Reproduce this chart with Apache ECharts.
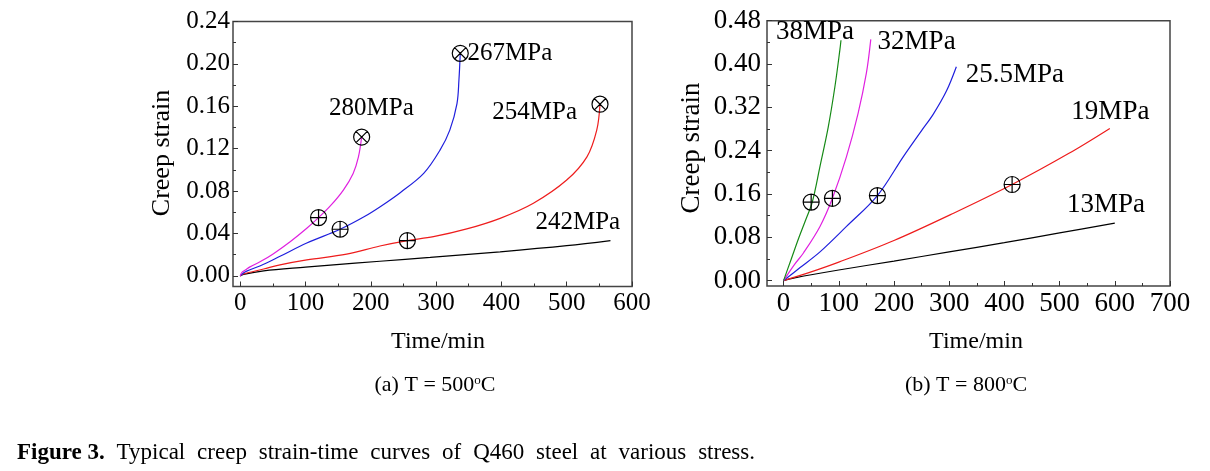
<!DOCTYPE html>
<html>
<head>
<meta charset="utf-8">
<script src="https://cdn.jsdelivr.net/npm/echarts@6/dist/echarts.min.js"></script>
<style>
html,body{margin:0;padding:0;background:#fff;}
#main{width:1210px;height:471px;}
</style>
</head>
<body>
<div id="main"></div>
<script>
// ---------- DATA (a) T = 500 C ----------
var aXTicks = [0, 100, 200, 300, 400, 500, 600];
var aYTicks = [0, 0.04, 0.08, 0.12, 0.16, 0.20, 0.24];
var a280 = [[0,0],[3,0.0035],[8,0.0055],[15,0.0085],[31,0.0135],[51,0.021],[77,0.0325],[102,0.045],[120,0.055],[138,0.066],[158,0.081],[173,0.0967],[181,0.112],[186,0.131]];
var a267 = [[0,0],[5,0.0028],[10,0.0045],[36,0.011],[61,0.0185],[102,0.031],[153,0.044],[189,0.0555],[215,0.0655],[245,0.0785],[281,0.0967],[306,0.1186],[321,0.1375],[332,0.1626],[335,0.185],[337,0.21]];
var a254 = [[0,0],[5,0.0018],[36,0.0065],[61,0.0104],[102,0.0151],[163,0.0205],[214,0.0282],[256,0.0333],[296,0.037],[347,0.0443],[398,0.0543],[449,0.0685],[500,0.0904],[531,0.1123],[546,0.1375],[551,0.162]];
var a242 = [[0,0],[5,0.0015],[36,0.0048],[100,0.0083],[138,0.0102],[214,0.0138],[291,0.0174],[398,0.0227],[500,0.0285],[567,0.0333]];
var aStrainMarks = [[120,0.055],[153,0.044],[256,0.0333]];
var aRuptureMarks = [[186,0.131],[337,0.21],[551,0.162]];
var aLabels = [["280MPa",201,0.158],["267MPa",413,0.2097],["254MPa",451,0.1538],["242MPa",517,0.0502]];

// ---------- DATA (b) T = 800 C ----------
var bXTicks = [0, 100, 200, 300, 400, 500, 600, 700];
var bYTicks = [0, 0.08, 0.16, 0.24, 0.32, 0.40, 0.48];
var b38 = [[0,0],[14,0.04],[28,0.08],[40,0.112],[52,0.145],[66,0.211],[81,0.284],[93,0.358],[102,0.426],[104,0.444]];
var b32 = [[0,0],[20,0.03],[36,0.051],[66,0.100],[88.5,0.152],[114,0.229],[135,0.309],[150,0.383],[158,0.4455]];
var b255 = [[0,0],[30,0.024],[66,0.053],[114,0.100],[170,0.157],[217,0.229],[250,0.277],[271,0.307],[295,0.350],[313,0.395]];
var b19 = [[0,0],[50,0.016],[100,0.034],[200,0.074],[307,0.124],[414,0.1775],[517,0.235],[591,0.281]];
var b13 = [[0,0],[20,0.005],[100,0.0195],[200,0.036],[300,0.053],[400,0.070],[500,0.088],[600,0.106]];
var bStrainMarks = [[50,0.145],[88.5,0.152],[170,0.157],[414,0.1775]];
var bLabels = [["38MPa",57,0.4595],["32MPa",241,0.441],["25.5MPa",419,0.38],["19MPa",592,0.312],["13MPa",584,0.139]];

// ---------- TEXT ----------
var captionBold = 'Figure 3.';
var captionWords = ['Typical','creep','strain-time','curves','of','Q460','steel','at','various','stress.'];

// ---------- STYLE ----------
var FONT = '"Liberation Serif", "Times New Roman", serif';
var PLUS = 'path://M0,10 A10,10 0 1,1 20,10 A10,10 0 1,1 0,10 Z M0,10 L20,10 M10,0 L10,20';
var CROSS = 'path://M0,10 A10,10 0 1,1 20,10 A10,10 0 1,1 0,10 Z M2.93,2.93 L17.07,17.07 M17.07,2.93 L2.93,17.07';

function mid(arr){ var r=[]; for(var i=0;i<arr.length-1;i++){ r.push((arr[i]+arr[i+1])/2); } return r; }

function majorX(g, ticks, min, max, fs){
  return {type:'value', gridIndex:g, min:min, max:max, position:'bottom',
    axisLine:{show:false, onZero:false}, splitLine:{show:false},
    axisTick:{show:true, inside:true, length:5, customValues:ticks, lineStyle:{color:'#333', width:1}},
    axisLabel:{show:true, customValues:ticks, margin:4, fontFamily:FONT, fontSize:fs, color:'#000'}};
}
function minorX(g, ticks, min, max){
  return {type:'value', gridIndex:g, min:min, max:max, position:'bottom',
    axisLine:{show:false, onZero:false}, splitLine:{show:false},
    axisTick:{show:true, inside:true, length:3, customValues:mid(ticks), lineStyle:{color:'#333', width:1}},
    axisLabel:{show:false}};
}
function majorY(g, ticks, min, max, fs, margin){
  return {type:'value', gridIndex:g, min:min, max:max, position:'left',
    axisLine:{show:false, onZero:false}, splitLine:{show:false},
    axisTick:{show:true, inside:true, length:5, customValues:ticks, lineStyle:{color:'#333', width:1}},
    axisLabel:{show:true, customValues:ticks, margin:margin, fontFamily:FONT, fontSize:fs, color:'#000',
      formatter:function(v){return v.toFixed(2);}}};
}
function minorY(g, ticks, min, max){
  return {type:'value', gridIndex:g, min:min, max:max, position:'left',
    axisLine:{show:false, onZero:false}, splitLine:{show:false},
    axisTick:{show:true, inside:true, length:3, customValues:mid(ticks), lineStyle:{color:'#333', width:1}},
    axisLabel:{show:false}};
}
function curve(data, color, xi, yi){
  return {type:'line', data:data, xAxisIndex:xi, yAxisIndex:yi, smooth:0.35, symbol:'none',
    lineStyle:{color:color, width:1.2}, silent:true, z:2};
}
function marks(data, sym, xi, yi){
  return {type:'scatter', data:data, xAxisIndex:xi, yAxisIndex:yi, symbol:sym, symbolSize:16,
    itemStyle:{color:'rgba(0,0,0,0)', borderColor:'#000', borderWidth:1.2, opacity:1}, silent:true, z:5};
}
function labels(arr, xi, yi, fs){
  return {type:'scatter', xAxisIndex:xi, yAxisIndex:yi, symbolSize:1, itemStyle:{color:'rgba(0,0,0,0)', opacity:1},
    data:arr.map(function(d){return {name:d[0], value:[d[1], d[2]]};}),
    label:{show:true, position:'inside', formatter:'{b}', fontFamily:FONT, fontSize:fs, color:'#000', opacity:1, textBorderWidth:0}, silent:true, z:6};
}

// caption laid out with evenly stretched word gaps (justified line)
function captionGraphics(){
  var cv = document.createElement('canvas').getContext('2d');
  var startX = 17, endX = 755, y = 453;
  var boldFont = 'bold 23px ' + FONT, normFont = '23px ' + FONT;
  cv.font = boldFont;
  var wb = cv.measureText(captionBold).width;
  cv.font = normFont;
  var widths = captionWords.map(function(w){ return cv.measureText(w).width; });
  var total = wb + widths.reduce(function(a,b){return a+b;},0);
  var gap = (endX - startX - total) / captionWords.length;
  var els = [{type:'text', x:startX, y:y, style:{text:captionBold, font:boldFont, fill:'#000', align:'left', verticalAlign:'middle'}}];
  var x = startX + wb + gap;
  captionWords.forEach(function(w, i){
    els.push({type:'text', x:x, y:y, style:{text:w, font:normFont, fill:'#000', align:'left', verticalAlign:'middle'}});
    x += widths[i] + gap;
  });
  return els;
}

var chart = echarts.init(document.getElementById('main'), null, {renderer:'canvas'});
var option = {
  animation:false,
  backgroundColor:'#fff',
  grid:[
    {left:233, top:21.5, width:399, height:265, show:true, borderColor:'#444', borderWidth:1.5, backgroundColor:'transparent'},
    {left:767, top:20.7, width:403, height:265.3, show:true, borderColor:'#444', borderWidth:1.5, backgroundColor:'transparent'}
  ],
  xAxis:[
    majorX(0, aXTicks, -11, 600, 25),
    minorX(0, aXTicks, -11, 600),
    majorX(1, bXTicks, -30, 700, 27),
    minorX(1, bXTicks, -30, 700)
  ],
  yAxis:[
    majorY(0, aYTicks, -0.01, 0.24, 25, 3),
    minorY(0, aYTicks, -0.01, 0.24),
    majorY(1, bYTicks, -0.01, 0.48, 27, 6),
    minorY(1, bYTicks, -0.01, 0.48)
  ],
  series:[
    curve(a242, '#000000', 0, 0),
    curve(a254, '#ee1c1c', 0, 0),
    curve(a267, '#1f1fdd', 0, 0),
    curve(a280, '#e020e0', 0, 0),
    marks(aStrainMarks, PLUS, 0, 0),
    marks(aRuptureMarks, CROSS, 0, 0),
    labels(aLabels, 0, 0, 25),
    curve(b13, '#000000', 2, 2),
    curve(b19, '#ee1c1c', 2, 2),
    curve(b255, '#1f1fdd', 2, 2),
    curve(b32, '#e020e0', 2, 2),
    curve(b38, '#168a16', 2, 2),
    marks(bStrainMarks, PLUS, 2, 2),
    labels(bLabels, 2, 2, 27)
  ],
  graphic:[
    {type:'text', x:162.5, y:153, rotation:Math.PI/2, style:{text:'Creep strain', font:'26px '+FONT, fill:'#000', align:'center', verticalAlign:'middle'}},
    {type:'text', x:692, y:148, rotation:Math.PI/2, style:{text:'Creep strain', font:'27px '+FONT, fill:'#000', align:'center', verticalAlign:'middle'}},
    {type:'text', x:438, y:342, style:{text:'Time/min', font:'24px '+FONT, fill:'#000', align:'center', verticalAlign:'middle'}},
    {type:'text', x:976, y:342, style:{text:'Time/min', font:'24px '+FONT, fill:'#000', align:'center', verticalAlign:'middle'}},
    {type:'text', x:435, y:385, style:{text:'(a) T = 500{s|o}C', font:'22px '+FONT, fill:'#000', align:'center', verticalAlign:'middle',
      rich:{s:{fontSize:13, fontFamily:FONT, verticalAlign:'top', padding:[0,0,8,0]}}}},
    {type:'text', x:966, y:385, style:{text:'(b) T = 800{s|o}C', font:'22px '+FONT, fill:'#000', align:'center', verticalAlign:'middle',
      rich:{s:{fontSize:13, fontFamily:FONT, verticalAlign:'top', padding:[0,0,8,0]}}}}
  ].concat(captionGraphics())
};
chart.setOption(option);
</script>
</body>
</html>
